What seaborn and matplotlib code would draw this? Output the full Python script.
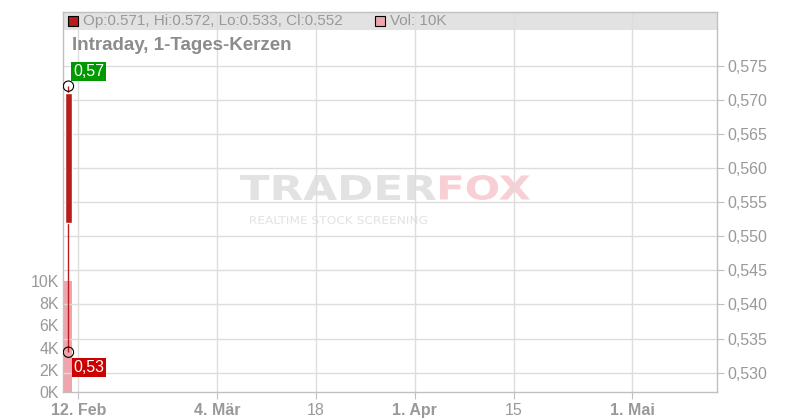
import numpy as np
import seaborn as sns
import matplotlib.pyplot as plt
from matplotlib.patches import Rectangle, PathPatch
from matplotlib.textpath import TextPath
from matplotlib.font_manager import FontProperties
from matplotlib.transforms import Affine2D

sns.set_style("white")
plt.rcParams['font.family'] = ['Liberation Sans', 'DejaVu Sans']

# Kerzendaten (ein Handelstag)
dates = ["2025-02-11"]
opens = [0.571]
highs = [0.572]
lows = [0.533]
closes = [0.552]
volumes = [10000]

# Achsen
tick_dates = ["2025-02-12", "2025-03-04", "2025-03-18", "2025-04-01", "2025-04-15", "2025-05-01"]
tick_labels = ["12. Feb", "4. Mär", "18", "1. Apr", "15", "1. Mai"]
price_ticks = [0.530, 0.535, 0.540, 0.545, 0.550, 0.555, 0.560, 0.565, 0.570, 0.575]
vol_ticks = [0, 2000, 4000, 6000, 8000, 10000]

red = "#b81c1c"
pink = "#f0a4ac"
grey_txt = "#999999"
grid_c = "#dddddd"
spine_c = "#c0c0c0"

# Handelstage als x-Position (ordinale Zeitachse)
start = dates[0]
x = np.busday_count(start, dates)
tick_x = np.busday_count(start, tick_dates)

W, H = 800, 420
fig = plt.figure(figsize=(W / 100, H / 100), dpi=100)
ax = fig.add_axes([63 / W, 28 / H, (716.7 - 63) / W, 380 / H])
axv = ax.twinx()
ax.set_zorder(2)
ax.patch.set_visible(False)
axv.set_zorder(1)

# Volumen (linke Achse)
sns.barplot(x=x, y=volumes, native_scale=True, ax=axv, color=pink,
            saturation=1, width=0.8, edgecolor="none")
axv.set_ylim(0, 34234)
axv.set_yticks(vol_ticks)
axv.set_yticklabels([f"{v // 1000}K" for v in vol_ticks])
axv.yaxis.tick_left()
axv.tick_params(axis='y', left=True, right=False, length=0, pad=3,
                labelcolor=grey_txt, labelsize=11.5)
axv.set_xlabel("")
axv.set_ylabel("")
for s in axv.spines.values():
    s.set_visible(False)

# Kerze (rechte Achse)
o = np.array(opens); c = np.array(closes)
ax.vlines(x, lows, highs, color=red, lw=1, zorder=3)
ax.bar(x, c - o, bottom=o, width=0.62, color=red, zorder=4)
ax.scatter(np.r_[x, x], np.r_[highs, lows], s=55, facecolors='none',
           edgecolors='black', linewidths=0.8, zorder=6)
ax.annotate(f"{highs[0]:.2f}".replace('.', ','), xy=(x[0], highs[0]),
            xytext=(20, 14.5), textcoords='offset pixels', ha='center', va='center',
            color='white', fontsize=11.5, zorder=7,
            bbox=dict(boxstyle='square,pad=0.12', fc='#009900', ec='none'))
ax.annotate(f"{lows[0]:.2f}".replace('.', ','), xy=(x[0], lows[0]),
            xytext=(20.5, -15.3), textcoords='offset pixels', ha='center', va='center',
            color='white', fontsize=11.5, zorder=7,
            bbox=dict(boxstyle='square,pad=0.12', fc='#cc0000', ec='none'))

ax.set_xlim(-0.55, 65.53)
ax.set_ylim(0.52717, 0.58287)
ax.set_yticks(price_ticks)
ax.set_yticklabels([f"{v:.3f}".replace('.', ',') for v in price_ticks])
ax.yaxis.tick_right()
ax.tick_params(axis='y', left=False, right=True, length=5, color=spine_c, pad=3,
               labelcolor=grey_txt, labelsize=11.5)
ax.set_xticks(tick_x)
ax.set_xticklabels(tick_labels)
ax.tick_params(axis='x', bottom=True, length=5, color=spine_c, pad=3,
               labelcolor=grey_txt, labelsize=11.5)
for lab in ax.get_xticklabels():
    if ". " in lab.get_text():
        lab.set_fontweight('bold')
ax.grid(True, color=grid_c, lw=1)
ax.set_axisbelow(True)
for s in ax.spines.values():
    s.set_visible(True)
    s.set_color(spine_c)
    s.set_linewidth(1)

# Legendenband
ax.add_patch(Rectangle((0, (392 - 30) / 380), 1, 18 / 380, transform=ax.transAxes,
                       fc="#e2e2e2", ec="none", zorder=0.1))
fig.add_artist(Rectangle((68 / W, 1 - 26 / H), 10 / W, 10 / H, transform=fig.transFigure,
                         fc=red, ec='black', lw=0.8, zorder=5))
fig.text(83 / W, 1 - 21 / H,
         f"Op:{opens[0]}, Hi:{highs[0]}, Lo:{lows[0]}, Cl:{closes[0]}",
         color=grey_txt, fontsize=11, va='center', ha='left', zorder=5)
fig.add_artist(Rectangle((375 / W, 1 - 26 / H), 10 / W, 10 / H, transform=fig.transFigure,
                         fc=pink, ec='black', lw=0.8, zorder=5))
fig.text(390 / W, 1 - 21 / H, f"Vol: {volumes[0] // 1000}K",
         color=grey_txt, fontsize=11, va='center', ha='left', zorder=5)

fig.text(72 / W, 1 - 46 / H, "Intraday, 1-Tages-Kerzen", color="#8c8c8c",
         fontsize=13.5, fontweight='bold', va='center', ha='left', zorder=5)


# Wasserzeichen
def stretched(s, x0, y0, w, h, color, weight='bold'):
    tp = TextPath((0, 0), s, size=1, prop=FontProperties(family='DejaVu Sans', weight=weight))
    ext = tp.get_extents()
    tr = (Affine2D().translate(-ext.x0, -ext.y0)
          .scale(w / ext.width / W, h / ext.height / H)
          .translate(x0 / W, 1 - y0 / H) + fig.transFigure)
    ax.add_artist(PathPatch(tp, transform=tr, fc=color, ec='none', zorder=0.2))


stretched("TRADER", 240, 200, 196, 25, "#e2e2e2")
stretched("FOX", 440, 200, 90, 25, "#f8cfd4")
stretched("REALTIME STOCK SCREENING", 250, 224, 177, 8, "#e2e2e2", weight='normal')

fig.savefig("out.png", dpi=100)
